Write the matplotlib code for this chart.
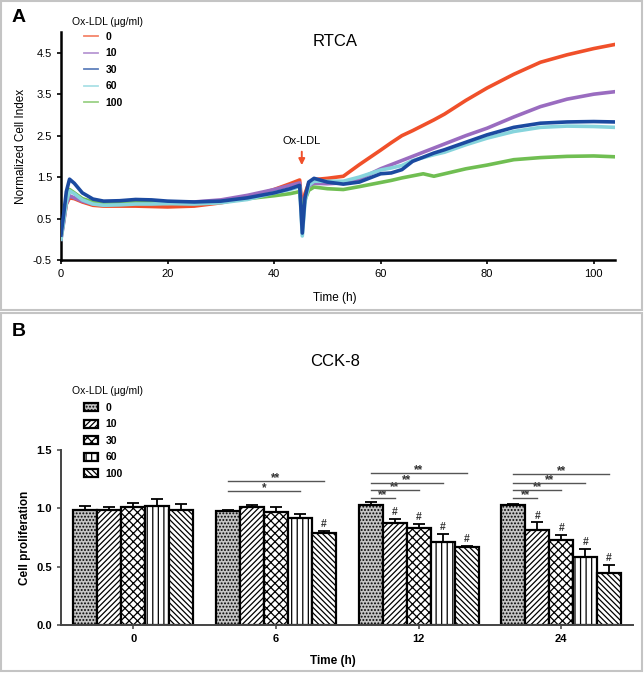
"""Two-panel figure: RTCA cell index curves (A) and CCK-8 proliferation bars (B)."""

import matplotlib

matplotlib.use("Agg")
import matplotlib.pyplot as plt
import numpy as np
from matplotlib.patches import Rectangle

plt.rcParams["font.family"] = ["Liberation Sans", "DejaVu Sans"]
plt.rcParams["hatch.linewidth"] = 0.9
plt.rcParams["axes.unicode_minus"] = False

# ---- panel A: RTCA ----
doses = ["0", "10", "30", "60", "100"]
rtca_time = [0, 0.5, 1.0, 1.6, 2.5, 4, 6, 8, 11, 14, 17, 20, 25, 30, 35, 40, 43, 44.8,
             45.3, 45.8, 46.5, 47.5, 50, 53, 56, 60, 62, 64, 66, 68, 70, 72, 76, 80,
             85, 90, 95, 100, 104]
ci_0 = [0.05, 0.45, 0.85, 1.0, 0.98, 0.9, 0.82, 0.8, 0.8, 0.8, 0.79, 0.78, 0.8, 0.88,
        1.0, 1.2, 1.34, 1.43, 0.7, 1.1, 1.35, 1.44, 1.47, 1.52, 1.8, 2.15, 2.33, 2.5,
        2.62, 2.75, 2.88, 3.02, 3.35, 3.65, 3.98, 4.27, 4.45, 4.6, 4.7]
ci_10 = [0.0, 0.4, 0.85, 1.05, 1.0, 0.92, 0.85, 0.84, 0.86, 0.88, 0.88, 0.88, 0.9, 0.95,
         1.06, 1.2, 1.3, 1.36, 0.5, 1.0, 1.28, 1.35, 1.34, 1.36, 1.45, 1.7, 1.8, 1.9,
         2.0, 2.1, 2.2, 2.3, 2.5, 2.68, 2.95, 3.2, 3.38, 3.5, 3.56]
ci_30 = [0.1, 0.6, 1.15, 1.45, 1.35, 1.12, 0.97, 0.92, 0.93, 0.96, 0.95, 0.92, 0.9, 0.92,
         1.0, 1.12, 1.22, 1.3, 0.15, 1.0, 1.38, 1.47, 1.38, 1.33, 1.38, 1.58, 1.6, 1.68,
         1.88, 1.98, 2.08, 2.16, 2.34, 2.52, 2.7, 2.8, 2.83, 2.84, 2.83]
ci_60 = [0.0, 0.45, 0.9, 1.17, 1.1, 0.95, 0.85, 0.82, 0.83, 0.85, 0.85, 0.86, 0.85, 0.88,
         0.96, 1.12, 1.2, 1.27, 0.08, 0.9, 1.3, 1.4, 1.4, 1.4, 1.5, 1.67, 1.72, 1.78,
         1.9, 1.97, 2.04, 2.1, 2.28, 2.44, 2.6, 2.7, 2.73, 2.72, 2.7]
ci_100 = [0.05, 0.5, 0.95, 1.2, 1.12, 0.98, 0.9, 0.88, 0.9, 0.92, 0.91, 0.9, 0.88, 0.9,
          0.98, 1.05, 1.1, 1.15, 0.6, 0.95, 1.18, 1.26, 1.22, 1.2, 1.27, 1.37, 1.42, 1.48,
          1.53, 1.58, 1.52, 1.58, 1.7, 1.79, 1.92, 1.97, 2.0, 2.01, 1.99]
oxldl_added = 45.2  # h

# ---- panel B: CCK-8 ----
cck_times = ["0", "6", "12", "24"]
prolif_0 = [0.99, 0.98, 1.03, 1.03]
prolif_10 = [0.99, 1.01, 0.875, 0.815]
prolif_30 = [1.01, 0.97, 0.83, 0.73]
prolif_60 = [1.02, 0.92, 0.71, 0.58]
prolif_100 = [0.99, 0.79, 0.665, 0.445]
sem_0 = [0.03, 0.01, 0.025, 0.01]
sem_10 = [0.02, 0.02, 0.035, 0.065]
sem_30 = [0.04, 0.04, 0.04, 0.04]
sem_60 = [0.06, 0.03, 0.07, 0.075]
sem_100 = [0.05, 0.02, 0.015, 0.07]
# (time index, bar compared with control, line height, label)
comparisons = [(1, 3, 1.145, "*"), (1, 4, 1.235, "**"),
               (2, 1, 1.09, "**"), (2, 2, 1.16, "**"), (2, 3, 1.22, "**"), (2, 4, 1.30, "**"),
               (3, 1, 1.085, "**"), (3, 2, 1.155, "**"), (3, 3, 1.22, "**"), (3, 4, 1.295, "**")]
# bars marked with '#': (time index, dose index)
hash_marks = [(1, 4), (2, 1), (2, 2), (2, 3), (2, 4), (3, 1), (3, 2), (3, 3), (3, 4)]

W, H = 644, 673
fig = plt.figure(figsize=(W / 100, H / 100), dpi=100)


def fx(px):
    return px / W


def fy(py):
    return 1 - py / H


# panel frames
for top, bottom in [(1, 310), (313, 671)]:
    fig.patches.append(Rectangle((fx(1), fy(bottom)), fx(641), (bottom - top) / H,
                                 transform=fig.transFigure, fill=False,
                                 edgecolor="#c4c4c4", lw=1.5))

# ================= A =================
ax = fig.add_axes([fx(61), fy(260), fx(554), 228 / H])
colors = ["#f0502a", "#9a6cc0", "#1b4aa0", "#86d4dc", "#70be52"]
zorders = [2, 3, 6, 5, 4]
for lab, ys, c, z in zip(doses, [ci_0, ci_10, ci_30, ci_60, ci_100], colors, zorders):
    ax.plot(rtca_time, ys, color=c, lw=2.6, zorder=z, label=lab)
ax.set_xlim(0, 104)
ax.set_ylim(-0.5, 5.0)
ax.set_yticks([-0.5, 0.5, 1.5, 2.5, 3.5, 4.5])
ax.set_xticks([0, 20, 40, 60, 80, 100])
for s in ["top", "right"]:
    ax.spines[s].set_visible(False)
for s in ["left", "bottom"]:
    ax.spines[s].set_linewidth(1.8)
ax.tick_params(labelsize=8, width=1.2, length=3)
ax.set_ylabel("Normalized Cell Index", fontsize=8.5)
ax.set_xlabel("Time (h)", fontsize=8.5)
ax.xaxis.set_label_coords((335 - 61) / 554, -32 / 228)
ax.annotate("", xy=(oxldl_added, 1.72), xytext=(oxldl_added, 2.18),
            arrowprops=dict(arrowstyle="-|>", color="#f0502a", lw=1.4, mutation_scale=9))
ax.text(oxldl_added, 2.37, "Ox-LDL", ha="center", va="center", fontsize=8)
fig.text(fx(335), fy(41), "RTCA", ha="center", va="center", fontsize=12)
fig.text(fx(12), fy(18), "A", ha="left", va="center", fontsize=14, fontweight="bold")
fig.text(fx(72), fy(22), "Ox-LDL (μg/ml)", ha="left", va="center", fontsize=7.5)
leg = ax.legend(loc="upper left", bbox_to_anchor=(fx(84), fy(32)),
                bbox_transform=fig.transFigure, frameon=False, fontsize=7.5,
                handlelength=1.3, handletextpad=0.8, labelspacing=0.62,
                borderpad=0, borderaxespad=0)
for t in leg.get_texts():
    t.set_fontweight("bold")
for h in leg.get_lines():
    h.set_linewidth(1.3)
    h.set_alpha(0.7)

# ================= B =================
bx = fig.add_axes([fx(61), fy(625), fx(572), 175 / H])
means = [prolif_0, prolif_10, prolif_30, prolif_60, prolif_100]
sems = [sem_0, sem_10, sem_30, sem_60, sem_100]
hatches = [".....", "//////", "xxxx", "|||", "\\\\\\\\\\\\"]
faces = ["#c4c4c4", "white", "white", "white", "white"]
w = 0.168
x = np.arange(len(cck_times))
for i, (m, e, hch, fc, lab) in enumerate(zip(means, sems, hatches, faces, doses)):
    pos = x + (i - 2) * w
    bx.bar(pos, m, width=w, facecolor=fc, edgecolor="black", hatch=hch, lw=1.6,
           label=lab, zorder=2)
    bx.errorbar(pos, m, yerr=[np.zeros(len(m)), e], fmt="none", ecolor="black",
                elinewidth=1.3, capsize=4, capthick=1.3, zorder=3)
for g, k, yv, lab in comparisons:
    x0 = g - 2 * w
    x1 = g + (k - 2) * w
    bx.plot([x0, x1], [yv, yv], color="#555555", lw=1.0, zorder=3)
    bx.text((x0 + x1) / 2, yv, lab, ha="center", va="baseline", fontsize=8.5,
            fontweight="bold", color="#333333")
for g, k in hash_marks:
    top = means[k][g] + sems[k][g]
    bx.text(g + (k - 2) * w, top + 0.015, "#", ha="center", va="bottom", fontsize=7.5,
            fontweight="bold", color="#333333")
bx.set_xlim(-0.507, 3.503)
bx.set_ylim(0, 1.5)
bx.set_yticks([0.0, 0.5, 1.0, 1.5])
bx.set_yticklabels(["0.0", "0.5", "1.0", "1.5"])
bx.set_xticks(x)
bx.set_xticklabels(cck_times)
for s in ["top", "right"]:
    bx.spines[s].set_visible(False)
for s in ["left", "bottom"]:
    bx.spines[s].set_linewidth(1.4)
    bx.spines[s].set_color("#444444")
bx.tick_params(labelsize=8, width=1.1, length=3, color="#444444")
for t in bx.get_xticklabels() + bx.get_yticklabels():
    t.set_fontweight("bold")
bx.set_ylabel("Cell proliferation", fontsize=8.5, fontweight="bold")
bx.set_xlabel("Time (h)", fontsize=8.5, fontweight="bold")
bx.xaxis.set_label_coords((333 - 61) / 572, -30 / 175)
fig.text(fx(335), fy(361), "CCK-8", ha="center", va="center", fontsize=12)
fig.text(fx(12), fy(332), "B", ha="left", va="center", fontsize=14, fontweight="bold")
fig.text(fx(72), fy(391), "Ox-LDL (μg/ml)", ha="left", va="center", fontsize=7.5)
leg2 = bx.legend(loc="upper left", bbox_to_anchor=(fx(84), fy(403)),
                 bbox_transform=fig.transFigure, frameon=False, fontsize=7.5,
                 handlelength=1.3, handleheight=0.8, handletextpad=0.8,
                 labelspacing=0.62, borderpad=0, borderaxespad=0)
for t in leg2.get_texts():
    t.set_fontweight("bold")

fig.savefig("out.png", dpi=100)
